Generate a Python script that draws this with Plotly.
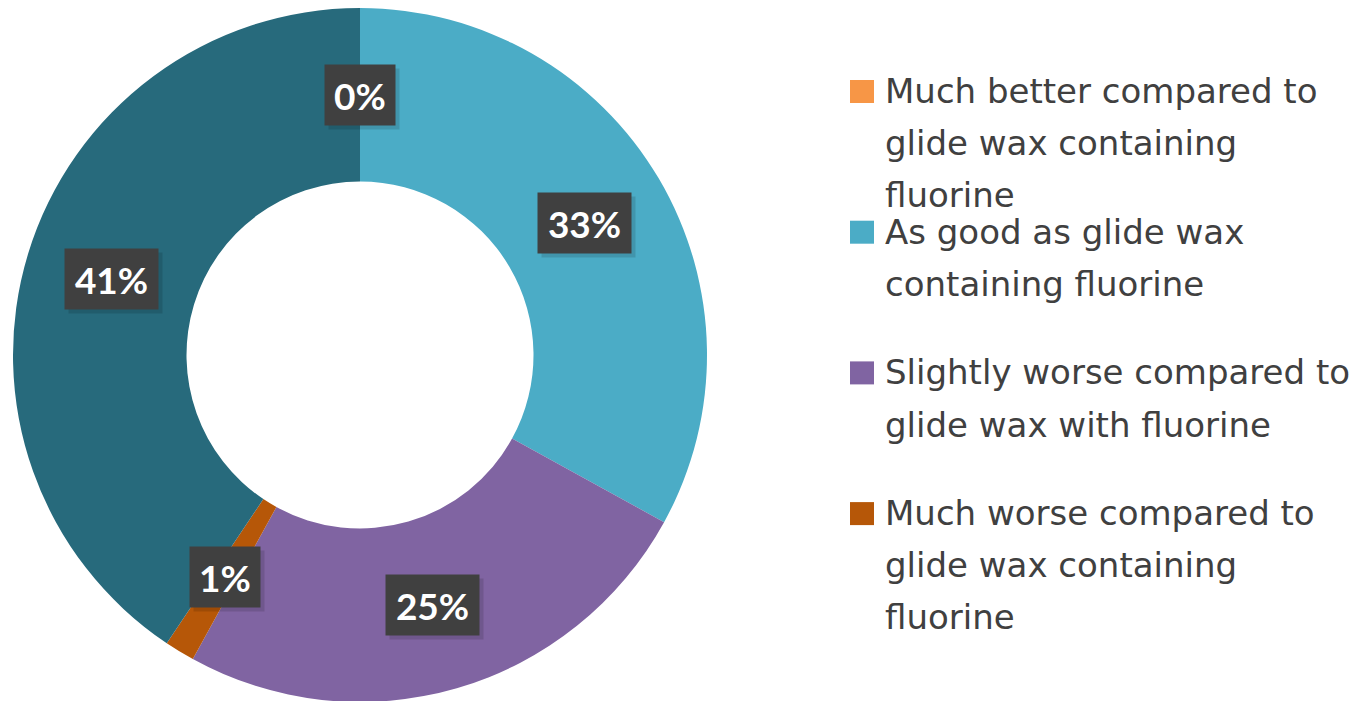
import math
import plotly.graph_objects as go

# Categories and values (percent of answers)
labels = [
    "Much better compared to glide wax containing fluorine",
    "As good as glide wax containing fluorine",
    "Slightly worse compared to glide wax with fluorine",
    "Much worse compared to glide wax containing fluorine",
    "No answer",
]
values = [0, 33, 25, 1.4, 40.6]
colors = ["#F79646", "#4BACC6", "#8064A2", "#B65708", "#276A7C"]

# Legend text as it wraps in the picture (only first four entries are visible)
legend_lines = [
    ["Much better compared to", "glide wax containing", "fluorine"],
    ["As good as glide wax", "containing fluorine"],
    ["Slightly worse compared to", "glide wax with fluorine"],
    ["Much worse compared to", "glide wax containing", "fluorine"],
]

W, H = 1362, 701
OFF = 8            # page body margin
HOLE = 0.5
LABEL_FONT = "Lato"
LEGEND_FONT = "DejaVu Sans"
TEXT_COLOR = "#404040"

# pie geometry in screen pixels
cx, cy, r = 360, 355, 347
r_mid = r * (1 + HOLE) / 2


def px(x):
    return (x - OFF) / W


def py(y):
    return (H - (y - OFF)) / H


fig = go.Figure()
fig.add_trace(go.Pie(
    labels=labels,
    values=values,
    hole=HOLE,
    sort=False,
    direction="clockwise",
    rotation=0,
    marker=dict(colors=colors, line=dict(width=0)),
    textinfo="none",
    showlegend=False,
    domain=dict(x=[px(cx - r), px(cx + r)], y=[py(cy + r), py(cy - r)]),
))

annotations = []
shapes = []

# data labels: dark boxes at the middle of each ring segment
total = sum(values)
start = 0
for v in values:
    ang = (start + v / 2) / total * 2 * math.pi
    start += v
    x = cx + r_mid * math.sin(ang)
    y = cy - r_mid * math.cos(ang)
    txt = f"{round(v / total * 100)}%"
    bw = 24 + 23 * len(txt)
    # soft shadow
    annotations.append(dict(
        x=px(x + 4), y=py(y + 4), xref="paper", yref="paper",
        xanchor="center", yanchor="middle",
        text="", showarrow=False, width=bw, height=60,
        bgcolor="rgba(0,0,0,0.13)", borderpad=0,
    ))
    annotations.append(dict(
        x=px(x), y=py(y), xref="paper", yref="paper",
        xanchor="center", yanchor="middle",
        text=f"<b>{txt}</b>", showarrow=False, width=bw, height=60,
        bgcolor="#404040", borderpad=0,
        font=dict(family=LABEL_FONT, size=37, color="white"),
    ))

# legend drawn by hand (square + wrapped lines)
first_base = 103
item_step = 140.7
line_step = 52
fsize = 34
for i, lines in enumerate(legend_lines):
    base = first_base + i * item_step
    shapes.append(dict(
        type="rect", xref="paper", yref="paper",
        x0=px(850), x1=px(874), y0=py(base), y1=py(base - 23),
        fillcolor=colors[i], line=dict(width=0),
    ))
    for j, line in enumerate(lines):
        b = base + j * line_step
        annotations.append(dict(
            x=px(883), y=py(b - 0.35 * fsize), xref="paper", yref="paper",
            xanchor="left", yanchor="middle", text=line, showarrow=False,
            font=dict(family=LEGEND_FONT, size=fsize, color=TEXT_COLOR),
        ))

fig.update_layout(
    width=W, height=H,
    margin=dict(l=0, r=0, t=0, b=0),
    paper_bgcolor="white",
    plot_bgcolor="white",
    annotations=annotations,
    shapes=shapes,
    font=dict(family=LEGEND_FONT),
)

fig.write_html("out.html")
